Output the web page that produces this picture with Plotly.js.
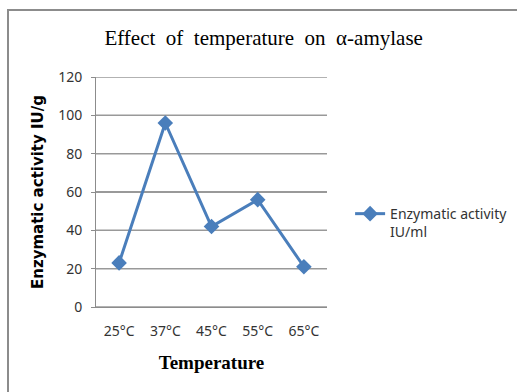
<!DOCTYPE html>
<html>
<head>
<meta charset="utf-8">
<script src="https://cdn.plot.ly/plotly-3.0.1.min.js"></script>
<style>
html,body{margin:0;padding:0;background:#fff;}
#wrap{position:relative;width:517px;height:392px;overflow:hidden;}
#frame{position:absolute;left:7px;top:9px;width:520px;height:400px;border-left:2px solid #8c8c8c;border-top:2px solid #8c8c8c;box-sizing:border-box;}
#chart{position:absolute;left:0;top:0;width:517px;height:392px;}
</style>
</head>
<body>
<div id="wrap"><div id="frame"></div><div id="chart"></div></div>
<script>
const categories = ["25°C", "37°C", "45°C", "55°C", "65°C"];
const activity = [23, 96, 42, 56, 21];
const seriesName = "Enzymatic activity<br>IU/ml";
const yTicks = [0, 20, 40, 60, 80, 100, 120];

const data = [{
  x: categories,
  y: activity,
  type: 'scatter',
  mode: 'lines+markers',
  name: seriesName,
  line: {color: '#4a7ebb', width: 3},
  marker: {symbol: 'diamond', size: 12, color: '#4a7ebb'}
}];

const gridShapes = yTicks.map(v => ({
  type: 'line', layer: 'below',
  xref: 'paper', x0: 0, x1: 1,
  yref: 'y', y0: v, y1: v,
  line: {color: '#999999', width: 1.5}
}));

const layout = {
  width: 517, height: 392,
  margin: {l: 96, r: 190, t: 77, b: 85, autoexpand: false},
  paper_bgcolor: 'rgba(0,0,0,0)',
  plot_bgcolor: 'rgba(0,0,0,0)',
  showlegend: true,
  shapes: gridShapes,
  title: {
    text: 'Effect  of  temperature  on  α-amylase',
    font: {family: 'Liberation Serif', size: 21, color: '#000'},
    x: 0.51, xanchor: 'center', y: 0.905, yanchor: 'middle'
  },
  xaxis: {
    type: 'category',
    range: [-0.5, 4.5],
    showgrid: false,
    showline: true, linecolor: '#8c8c8c', linewidth: 1,
    ticks: '',
    tickfont: {family: 'Noto Sans', size: 14, color: '#333'},
    ticklabelstandoff: 11,
    title: {text: 'Temperature', font: {family: 'Liberation Serif', size: 19, color: '#000', weight: 'bold'}, standoff: 16},
    zeroline: false, fixedrange: true
  },
  yaxis: {
    range: [0, 120],
    tickmode: 'array',
    tickvals: yTicks,
    showgrid: true, gridcolor: '#999999', gridwidth: 1.5,
    showline: true, linecolor: '#8c8c8c', linewidth: 1,
    ticks: 'outside', ticklen: 4, tickcolor: '#8c8c8c',
    tickfont: {family: 'Noto Sans', size: 14, color: '#333'},
    ticklabelstandoff: 6,
    title: {text: 'Enzymatic activity IU/g', font: {family: 'DejaVu Sans', size: 15, color: '#000', weight: 'bold'}, standoff: 10},
    zeroline: false, fixedrange: true
  },
  legend: {
    x: 1.10, xanchor: 'left', y: 0.365, yanchor: 'middle',
    valign: 'top',
    font: {family: 'Noto Sans', size: 14, color: '#333'},
    bgcolor: 'rgba(0,0,0,0)', itemwidth: 30
  }
};

Plotly.newPlot('chart', data, layout, {displayModeBar: false, staticPlot: true});
</script>
</body>
</html>
